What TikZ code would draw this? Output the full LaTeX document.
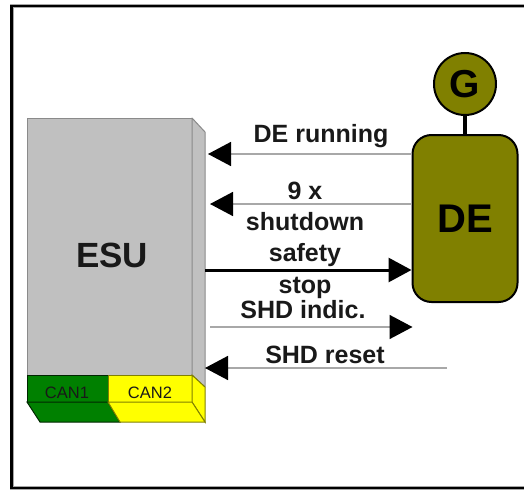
\documentclass[tikz,border=0pt]{standalone}
\usepackage{fontspec}
\setmainfont{Liberation Sans}
\usetikzlibrary{arrows.meta}
\definecolor{esugrey}{HTML}{C0C0C0}
\definecolor{esuedge}{HTML}{8A8A8A}
\definecolor{deolive}{HTML}{808000}
\definecolor{cangreen}{HTML}{008000}
\definecolor{canyellow}{HTML}{FFFF00}
\definecolor{sigline}{HTML}{A8A8A8}
\tikzset{
  bigtip/.style={-{Triangle[length=23pt,width=24pt,color=black]}},
  sig/.style={bigtip, draw=sigline, line width=1.6pt},
  sigbold/.style={bigtip, draw=black, line width=3pt},
  lbl/.style={font=\fontsize{25}{31.3}\selectfont\bfseries, inner sep=0pt, align=center, text=black!90},
  canlbl/.style={font=\fontsize{16.5}{16.5}\selectfont, inner sep=0pt, text=black!90},
  face/.style={draw=esuedge, line width=1pt, line join=round},
}
\begin{document}
\begin{tikzpicture}[x=1pt,y=-1pt]
\useasboundingbox (0,0) rectangle (524,492);
\begin{scope}
\clip (0,0) rectangle (524,492);
% frame (right side lies outside the picture)
\draw[black!35, line width=4pt] (600,6) -- (11.5,6) -- (11.5,488) -- (600,488);
\draw[black, line width=2.2pt] (600,6) -- (11.5,6) -- (11.5,488) -- (600,488);

% ESU box
\filldraw[face, fill=esugrey] (27,118) rectangle (192,375);
\filldraw[face, fill=esugrey] (192,118) -- (205,132) -- (205,387) -- (192,375) -- cycle;
% CAN strip front
\filldraw[draw=black!70!cangreen, line width=1pt, fill=cangreen] (27,375) rectangle (108,402);
\filldraw[draw=black!50!canyellow, line width=1pt, fill=canyellow] (108,375) rectangle (192,402);
% CAN strip side
\filldraw[draw=black!50!canyellow, line width=1pt, fill=canyellow] (192,375) -- (205,387) -- (205,422) -- (192,402) -- cycle;
% CAN strip bottom
\filldraw[draw=black!70!cangreen, line width=1pt, fill=cangreen] (27,402) -- (108,402) -- (120,422) -- (40,422) -- cycle;
\filldraw[draw=black!50!canyellow, line width=1pt, fill=canyellow] (108,402) -- (192,402) -- (205,422) -- (120,422) -- cycle;
\node[canlbl] (can1) at (67,393) {CAN1};
\node[canlbl] (can2) at (150,393) {CAN2};
\node[font=\fontsize{35}{35}\selectfont\bfseries, inner sep=0pt, text=black!90] (ESU) at (112,255) {ESU};

% DE and G
\node[draw=black, fill=deolive, line width=2pt, rounded corners=19pt,
      minimum width=105pt, minimum height=167pt, inner sep=0pt,
      font=\fontsize{40}{40}\selectfont\bfseries] (DE) at (465,218.5) {DE};
\node[draw=black, fill=deolive, line width=2pt, circle, minimum size=62pt, inner sep=0pt,
      font=\fontsize{39}{39}\selectfont\bfseries] (G) at (465,84) {G};
\draw[line width=4pt] (G.south) -- (DE.north);

% connector end points on the ESU side face
\coordinate (e1) at (208,154);
\coordinate (e2) at (210,204);
\coordinate (e3) at (205,270);
\coordinate (e4) at (210,327);
\coordinate (e5) at (205,368);
\coordinate (f5) at (447,368);

\draw[sig] (DE.west |- e1) -- (e1);
\draw[sig] (DE.west |- e2) -- (e2);
\draw[sigbold] (e3) -- (DE.west |- e3);
\draw[sig] (e4) -- ([xshift=1pt]DE.west |- e4);
\draw[sig] (f5) -- (e5);

% labels
\node[lbl, anchor=base] (l1) at (321,142) {DE running};
\node[lbl] (l2) at (305,240) {9 x\\shutdown\\safety\\stop};
\node[lbl, anchor=base] (l4) at (303,318) {SHD indic.};
\node[lbl, anchor=base] (l5) at (325,363) {SHD reset};
\end{scope}
\end{tikzpicture}
\end{document}
